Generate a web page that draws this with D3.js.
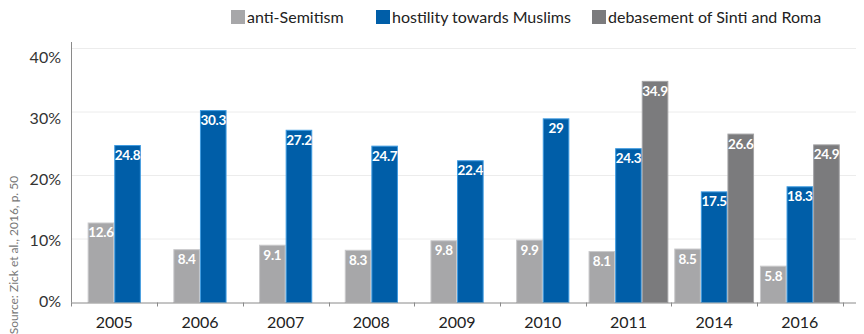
<!DOCTYPE html>
<html>
<head>
<meta charset="utf-8">
<script src="https://cdn.jsdelivr.net/npm/d3@7"></script>
<style>
  body { margin: 0; background: #fff; }
  svg { display: block; font-family: Lato, "Open Sans", sans-serif; }
</style>
</head>
<body>
<div id="chart"></div>
<script>
/********** Data **********/
var years = ["2005", "2006", "2007", "2008", "2009", "2010", "2011", "2014", "2016"]
var antiSemitism = [12.6, 8.4, 9.1, 8.3, 9.8, 9.9, 8.1, 8.5, 5.8]
var hostilityMuslims = [24.8, 30.3, 27.2, 24.7, 22.4, 29, 24.3, 17.5, 18.3]
var sintiRoma = [null, null, null, null, null, null, 34.9, 26.6, 24.9]
var seriesNames = ["anti-Semitism", "hostility towards Muslims", "debasement of Sinti and Roma"]
var yTicks = [0, 10, 20, 30, 40]

var colors = ["#a7a7a9", "#005ea8", "#7b7b7d"]
var edges = ["#c9c9cb", "#3f9be0", "#a3a3a5"]

/********** Build table **********/
var allSeries = [antiSemitism, hostilityMuslims, sintiRoma]
var rows = years.map(function(y, i) {
  var vals = []
  allSeries.forEach(function(s, k) {
    if (s[i] != null) vals.push({series: k, value: s[i]})
  })
  return {year: y, vals: vals}
})

/********** Chart **********/
var W = 864, H = 334
var svg = d3.select("#chart").append("svg")
  .attr("width", W).attr("height", H)

var x = d3.scaleBand().domain(years).range([71.4, 842.7])
var y = d3.scaleLinear().domain([0, 40]).range([302.5, 48.5])
var yLabel = d3.scaleLinear().domain([0, 40]).range([301.5, 57.5]) // labels sit a bit lower than the grid
var barW = 26.6
var axisRight = 856

// grid lines
svg.append("g").selectAll("line")
  .data(yTicks.filter(function(t) { return t > 0 }))
  .join("line")
  .attr("x1", 72).attr("x2", axisRight)
  .attr("y1", function(d) { return y(d) }).attr("y2", function(d) { return y(d) })
  .attr("stroke", "#ececec").attr("stroke-width", 1)

// y labels
svg.append("g").selectAll("text")
  .data(yTicks)
  .join("text")
  .attr("x", 61)
  .attr("y", function(d) { return yLabel(d) })
  .attr("dy", "0.35em")
  .attr("text-anchor", "end")
  .style("font-size", "16px")
  .attr("fill", "#333")
  .text(function(d) { return d + "%" })

// bars
var groups = svg.append("g").selectAll("g")
  .data(rows)
  .join("g")

groups.each(function(row) {
  var g = d3.select(this)
  var n = row.vals.length
  var start = x(row.year) + x.bandwidth() / 2 - n * barW / 2
  row.vals.forEach(function(v, j) {
    var bx = start + j * barW
    g.append("rect")
      .attr("x", bx + 0.5)
      .attr("y", y(v.value) + 0.5)
      .attr("width", barW - 1)
      .attr("height", y(0) - y(v.value) - 0.5)
      .attr("fill", colors[v.series])
      .attr("stroke", edges[v.series])
      .attr("stroke-width", 1)
    g.append("text")
      .attr("x", bx + barW / 2)
      .attr("y", y(v.value) + 15)
      .attr("text-anchor", "middle")
      .attr("fill", "#fff")
      .style("font-size", "13.5px")
      .style("font-weight", "bold")
      .style("letter-spacing", "-0.3px")
      .text(v.value)
  })
})

// y axis line
svg.append("line")
  .attr("x1", 71.5).attr("x2", 71.5)
  .attr("y1", 42).attr("y2", y(0))
  .attr("stroke", "#8a8a8a")

// x axis
svg.append("line")
  .attr("x1", 71).attr("x2", axisRight)
  .attr("y1", y(0) + 0.5).attr("y2", y(0) + 0.5)
  .attr("stroke", "#8a8a8a")

var bounds = years.map(function(d) { return x(d) }).concat([x.range()[1]])
svg.append("g").selectAll("line")
  .data(bounds)
  .join("line")
  .attr("x1", function(d) { return Math.round(d) + 0.5 })
  .attr("x2", function(d) { return Math.round(d) + 0.5 })
  .attr("y1", y(0)).attr("y2", y(0) + 4)
  .attr("stroke", "#8a8a8a")

svg.append("g").selectAll("text")
  .data(years)
  .join("text")
  .attr("x", function(d) { return x(d) + x.bandwidth() / 2 })
  .attr("y", 328)
  .attr("text-anchor", "middle")
  .style("font-size", "16px")
  .attr("fill", "#222")
  .text(function(d) { return d })

// legend
var legendX = [231, 376, 592]
var legend = svg.append("g").selectAll("g")
  .data(seriesNames)
  .join("g")
  .attr("transform", function(d, i) { return "translate(" + legendX[i] + ",10)" })
legend.append("rect")
  .attr("width", 14).attr("height", 14)
  .attr("fill", function(d, i) { return colors[i] })
legend.append("text")
  .attr("x", 16).attr("y", 13)
  .style("font-size", "16px")
  .attr("fill", "#222")
  .text(function(d) { return d })

// source
svg.append("text")
  .attr("transform", "translate(18,255) rotate(-90)")
  .attr("text-anchor", "middle")
  .style("font-size", "12px")
  .attr("fill", "#777")
  .text("Source: Zick et al., 2016, p. 50")
</script>
</body>
</html>
